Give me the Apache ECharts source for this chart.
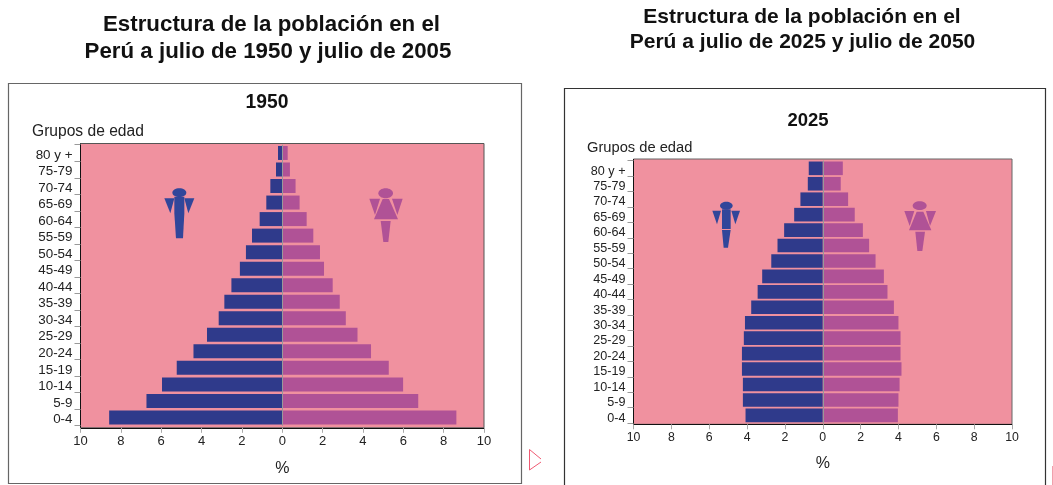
<!DOCTYPE html>
<html><head><meta charset="utf-8">
<style>html,body{margin:0;padding:0;background:#fff}#c{width:1053px;height:485px}</style>
<script src="https://cdn.jsdelivr.net/npm/echarts@6/dist/echarts.min.js"></script>
</head><body><div id="c"></div>
<script>
const ageGroups = ['80 y +','75-79','70-74','65-69','60-64','55-59','50-54','45-49','40-44','35-39','30-34','25-29','20-24','15-19','10-14','5-9','0-4'];
const male1950 = [0.21,0.31,0.59,0.79,1.12,1.50,1.80,2.10,2.52,2.87,3.15,3.73,4.40,5.23,5.96,6.73,8.58];
const female1950 = [0.27,0.38,0.66,0.86,1.21,1.54,1.87,2.07,2.50,2.85,3.15,3.73,4.40,5.28,5.99,6.74,8.63];
const male2025 = [0.74,0.79,1.18,1.51,2.04,2.39,2.72,3.20,3.44,3.78,4.11,4.17,4.27,4.27,4.22,4.22,4.08];
const female2025 = [1.06,0.95,1.34,1.69,2.12,2.45,2.79,3.23,3.42,3.76,4.00,4.11,4.11,4.16,4.06,4.00,3.97];

const FONT = '"Liberation Sans", Arial, sans-serif';
const BLUE = '#2f3a8b', PURPLE = '#b05296', PINK = '#f0919f', TXT = '#222';
const chart = echarts.init(document.getElementById('c'), null, {renderer:'canvas'});

const grids = [
  {left:80.5, top:144.7, width:403.5, height:281},
  {left:633.5, top:160.6, width:378.5, height:262.5}
];
const xOffset = [2.1, 1.2];
const xFont = [13, 12.3], yFont = [13.4, 12.6], yPad = [4, 5.6], barW = [14, 13.6], nameGaps = [33, 31];
const xAxes = grids.map((g,i)=>({
  type:'value', gridIndex:i, min:-10, max:10, interval:2, position:'bottom', offset:xOffset[i],
  name:'%', nameLocation:'center', nameGap:nameGaps[i],
  nameTextStyle:{fontFamily:FONT,fontSize:16,color:TXT},
  axisLine:{show:true,lineStyle:{color:'#111',width:1}},
  axisTick:{show:true,length:5,lineStyle:{color:'#aaa'}},
  axisLabel:{fontFamily:FONT,fontSize:xFont[i],color:TXT,margin:7,formatter:v=>String(Math.abs(v))},
  splitLine:{show:false}
}));
const yAxes = grids.map((g,i)=>({
  type:'category', gridIndex:i, data:ageGroups, inverse:true,
  axisLine:{show:true,onZero:false,lineStyle:{color:'#111',width:1}},
  axisTick:{show:true,length:6,alignWithLabel:false,lineStyle:{color:'#999'}},
  axisLabel:{fontFamily:FONT,fontSize:yFont[i],color:TXT,margin:8,interval:0,
    formatter:v=>'{a|'+v+'}',
    rich:{a:{fontFamily:FONT,fontSize:yFont[i],color:TXT,padding:[yPad[i],0,0,0]}}},
  splitLine:{show:false}
}));
function pair(i,m,f){
  return [
    {name:'Hombres',type:'bar',xAxisIndex:i,yAxisIndex:i,stack:'p'+i,barWidth:barW[i],silent:true,
     itemStyle:{color:BLUE},data:m.map(v=>-v),
     markLine:{silent:true,symbol:'none',label:{show:false},animation:false,
       lineStyle:{color:'#999',width:1,type:'solid'},data:[{xAxis:0}]}},
    {name:'Mujeres',type:'bar',xAxisIndex:i,yAxisIndex:i,stack:'p'+i,barWidth:barW[i],silent:true,
     itemStyle:{color:PURPLE},data:f}
  ];
}
// decoration: pictograms, in crop coordinates
function pts(list,ox,oy){return list.map(p=>[ox+p[0]/3,oy+p[1]/3]);}
function poly(list,ox,oy,color){return {type:'polygon',silent:true,z:50,shape:{points:pts(list,ox,oy)},style:{fill:color}};}
function head(x,y,rx,ry,ox,oy,color){return {type:'ellipse',silent:true,z:50,shape:{cx:ox+x/3,cy:oy+y/3,rx:rx/3,ry:ry/3},style:{fill:color}};}
const MAN='#31469a';
const icons=[
  head(538,338,21,13,0,80,MAN),
  poly([[493,355],[523,355],[511,400]],0,80,MAN),
  poly([[553,355],[583,355],[565,400]],0,80,MAN),
  poly([[523,350],[553,350],[553,400],[549,475],[528,475],[523,400]],0,80,MAN),
  head(347,190,22,15,270,130,PURPLE),
  poly([[298,206],[330,206],[315,255]],270,130,PURPLE),
  poly([[366,206],[398,206],[382,255]],270,130,PURPLE),
  poly([[338,207],[357,207],[384,268],[312,268]],270,130,PURPLE),
  poly([[332,273],[362,273],[355,336],[340,336]],270,130,PURPLE),
  head(514,362,19,12,555,85,MAN),
  poly([[472,377],[498,377],[486,418]],555,85,MAN),
  poly([[529,377],[555,377],[541,418]],555,85,MAN),
  poly([[501,373],[527,373],[527,432],[501,432]],555,85,MAN),
  poly([[501,435],[527,435],[519,488],[506,488]],555,85,MAN),
  head(329,167,21,13,810,150,PURPLE),
  poly([[283,183],[313,183],[299,228]],810,150,PURPLE),
  poly([[348,183],[378,183],[360,228]],810,150,PURPLE),
  poly([[320,185],[340,185],[364,241],[297,241]],810,150,PURPLE),
  poly([[316,245],[345,245],[337,303],[322,303]],810,150,PURPLE)
];
function txt(t,x,y,size,weight,align,color){
  return {type:'text',silent:true,z:60,x:x,y:y,style:{text:t,fontFamily:FONT,fontSize:size,fontWeight:weight,fill:color||'#111',align:align,verticalAlign:'middle'}};
}
function edge(x1,y1,x2,y2,c){return {type:'line',silent:true,z:-8,shape:{x1,y1,x2,y2},style:{stroke:c,lineWidth:1}};}
const graphics=[
  {type:'rect',silent:true,z:-10,shape:{x:8.5,y:83.5,width:513,height:400},style:{fill:'#fff',stroke:'#666',lineWidth:1.2}},
  {type:'rect',silent:true,z:-10,shape:{x:564.5,y:88.5,width:481,height:420},style:{fill:'#fff',stroke:'#333',lineWidth:1.2}},
  {type:'rect',silent:true,z:-9,shape:{x:80.5,y:143.5,width:403.5,height:284.3},style:{fill:PINK,stroke:'#555',lineWidth:1}},
  {type:'rect',silent:true,z:-9,shape:{x:633.5,y:159,width:378.5,height:265.3},style:{fill:PINK,stroke:'#666',lineWidth:1}},
  edge(80.5,143.5,80.5,428,'#111'),
  edge(633.5,159,633.5,424.5,'#111'),
  {type:'polyline',silent:true,shape:{points:[[541,459],[529.5,449.5],[529.5,470],[541,462]]},style:{fill:'none',stroke:'#ef5a72',lineWidth:1}},
  {type:'line',silent:true,shape:{x1:1052.5,y1:466,x2:1052.5,y2:485},style:{stroke:'#f0a0ac',lineWidth:1}},
  txt('Estructura de la población en el',271.5,25,22.3,'bold','center'),
  txt('Perú a julio de 1950 y julio de 2005',268,52,22.3,'bold','center'),
  txt('Estructura de la población en el',802,17,21,'bold','center'),
  txt('Perú a julio de 2025 y julio de 2050',802.5,42,21,'bold','center'),
  txt('1950',267,103,19.3,'bold','center'),
  txt('2025',808,121,18.5,'bold','center'),
  txt('Grupos de edad',32,132,15.6,'normal','left',TXT),
  txt('Grupos de edad',587,147.5,14.7,'normal','left',TXT)
].concat(icons);

chart.setOption({
  animation:false,
  grid:grids, xAxis:xAxes, yAxis:yAxes,
  series:[...pair(0,male1950,female1950),...pair(1,male2025,female2025)],
  graphic:{elements:graphics}
});
</script></body></html>
